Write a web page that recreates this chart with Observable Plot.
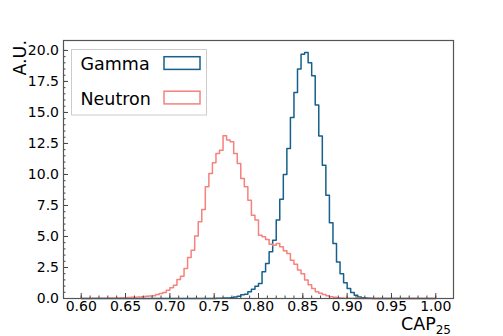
<!DOCTYPE html>
<html><head><meta charset="utf-8">
<script src="https://cdn.jsdelivr.net/npm/d3@7"></script>
<script src="https://cdn.jsdelivr.net/npm/@observablehq/plot@0.6"></script>
<style>body{margin:0;background:#fff;font-family:"DejaVu Sans";}</style>
</head><body><div id="chart"></div>
<script>
// histogram bins: 100 bins of width 0.004 from 0.60 to 1.00
const binLow = 0.60;
const binWidth = 0.004;
const gamma = [
  0,0,0,0,0,0,0,0,0,0,
  0,0,0,0,0,0,0,0,0,0,
  0,0,0,0,0,0,0,0,0,0,
  0,0,0,0,0,0,0.01,0.01,0.02,0.03,
  0.05,0.05,0.07,0.12,0.19,0.3,0.35,0.54,0.75,0.99,
  1.21,2.15,2.82,3.76,4.7,6.32,8.0,10.0,12.1,14.6,
  16.6,18.5,19.7,19.84,19.0,17.95,15.6,13.1,10.75,8.33,
  6.1,4.43,2.95,2.0,1.26,0.8,0.48,0.27,0.13,0.07,
  0.04,0.02,0.01,0,0,0,0,0,0,0,
  0,0,0,0,0,0,0,0,0,0
];
const neutron = [
  0.01,0.01,0.01,0.02,0.02,0.02,0.03,0.03,0.04,0.05,
  0.05,0.06,0.07,0.08,0.1,0.11,0.13,0.15,0.18,0.2,
  0.23,0.32,0.4,0.48,0.67,0.86,1.07,1.53,1.8,2.42,
  3.3,3.9,5.03,6.18,7.18,9.0,10.08,10.94,11.69,11.96,
  13.12,12.77,12.63,11.69,10.89,9.68,9.0,7.93,6.72,6.32,
  5.1,4.97,4.76,4.38,4.3,4.43,4.17,3.84,3.63,3.09,
  2.77,2.3,2.0,1.5,1.1,0.8,0.55,0.42,0.32,0.22,
  0.15,0.1,0.07,0.05,0.03,0.02,0.02,0.01,0.01,0.01,
  0,0,0,0,0,0,0,0,0,0,
  0,0,0,0,0,0,0,0,0,0
];
const seriesNames = ["Gamma", "Neutron"];
const seriesColors = ["#15608c", "#f4827d"];
const xTicks = [0.60,0.65,0.70,0.75,0.80,0.85,0.90,0.95,1.00];
const xMinorTicks = d3.range(60, 101, 1).map(d => d / 100);
const yTicks = [0,2.5,5,7.5,10,12.5,15,17.5,20];
const yMinorTicks = d3.range(0, 41, 1).map(d => d / 2);

function stepPoints(values, name) {
  const pts = [{x: binLow, y: 0, s: name}];
  values.forEach((v, i) => pts.push({x: +(binLow + i * binWidth).toFixed(3), y: v, s: name}));
  const hi = +(binLow + values.length * binWidth).toFixed(3);
  pts.push({x: hi, y: values[values.length - 1], s: name});
  pts.push({x: hi, y: 0, s: name});
  return pts;
}
const data = [...stepPoints(gamma, "Gamma"), ...stepPoints(neutron, "Neutron")];

const W = 503, H = 336;
const chart = Plot.plot({
  width: W, height: H,
  marginLeft: 63, marginRight: 50, marginTop: 40, marginBottom: 38,
  style: {fontFamily: "DejaVu Sans", fontSize: "14px", background: "white", color: "#000"},
  x: {domain: [0.58, 1.02]},
  y: {domain: [0, 20.8]},
  color: {domain: seriesNames, range: seriesColors},
  marks: [
    Plot.line(data, {x: "x", y: "y", z: "s", stroke: "s", curve: "step-after", strokeWidth: 1.5}),
    Plot.axisX({ticks: xMinorTicks, tickSize: -2.5, text: null, label: null, stroke: "#444"}),
    Plot.axisX({ticks: xTicks, tickSize: -5, text: null, label: null, stroke: "#444"}),
    Plot.axisX({ticks: xTicks, tickSize: 0, tickPadding: 3, tickFormat: d3.format(".2f"), label: null}),
    Plot.axisY({ticks: yMinorTicks, tickSize: -2.5, text: null, label: null, stroke: "#444"}),
    Plot.axisY({ticks: yTicks, tickSize: -5, text: null, label: null, stroke: "#444"}),
    Plot.axisY({ticks: yTicks, tickSize: 0, tickPadding: 4.5, tickFormat: d3.format(".1f"), label: null}),
    Plot.frame({stroke: "#555", strokeWidth: 1.2})
  ]
});
document.getElementById("chart").appendChild(chart);

const svg = d3.select(chart);
svg.selectAll("[aria-label='x-axis tick label'], [aria-label='y-axis tick label']").attr("font-size", 14);
const xs = chart.scale("x"), ys = chart.scale("y");
const pLeft = xs.range[0], pRight = xs.range[1], pTop = ys.range[1], pBottom = ys.range[0];

// axis labels (matplotlib-style: x label at right, y label at top)
const xl = svg.append("text").attr("x", pRight - 2).attr("y", H - 6)
  .attr("text-anchor", "end").attr("font-size", 17.5).attr("font-family", "DejaVu Sans").attr("fill", "#000");
xl.append("tspan").text("CAP");
xl.append("tspan").attr("font-size", 12).attr("dy", 4).text("25");
svg.append("text").attr("transform", `translate(${pLeft - 37.5},${pTop}) rotate(-90)`)
  .attr("text-anchor", "end").attr("font-size", 17.5).attr("font-family", "DejaVu Sans").attr("fill", "#000")
  .text("A.U.");

// legend
const lg = svg.append("g");
lg.append("rect").attr("x", pLeft + 8.5).attr("y", pTop + 9.5).attr("width", 135).attr("height", 65.5)
  .attr("fill", "white").attr("stroke", "#ccc").attr("stroke-width", 1);
seriesNames.forEach((name, k) => {
  const base = pTop + 30 + k * 34.5;
  lg.append("text").attr("x", pLeft + 17.5).attr("y", base).attr("font-size", 17.5)
    .attr("text-anchor", "start").attr("font-family", "DejaVu Sans").attr("fill", "#000").text(name);
  lg.append("rect").attr("x", pLeft + 101).attr("y", base - 13.3).attr("width", 36).attr("height", 12.7)
    .attr("fill", "none").attr("stroke", seriesColors[k]).attr("stroke-width", 1.5);
});
</script>
</body></html>
